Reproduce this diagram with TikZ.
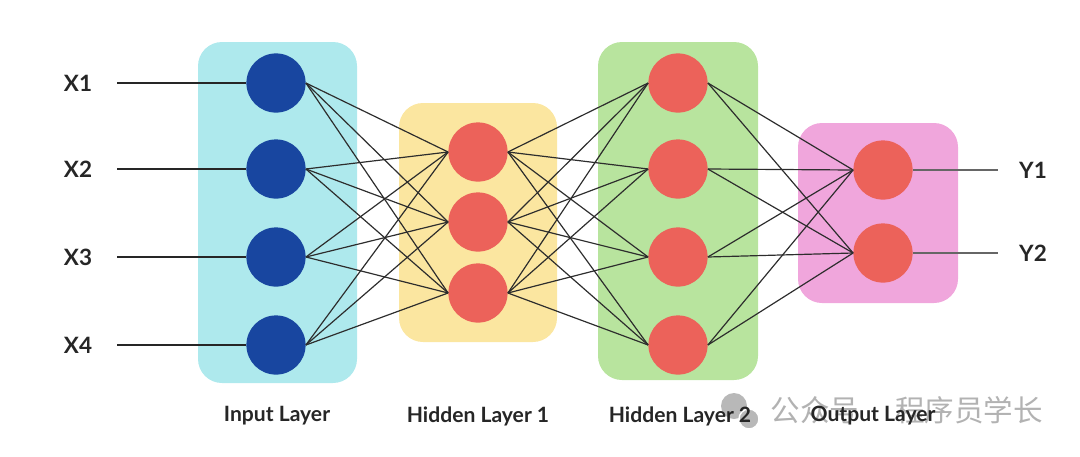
\documentclass[tikz,border=0pt]{standalone}
\usepackage{fontspec}
\setmainfont{Lato}
\newfontfamily\cjk{Noto Sans CJK SC}
\usetikzlibrary{positioning,calc}
\definecolor{deepblue}{RGB}{24,70,160}
\definecolor{coral}{RGB}{236,98,90}
\definecolor{aqua}{RGB}{174,233,237}
\definecolor{sand}{RGB}{251,230,160}
\definecolor{lime}{RGB}{184,228,158}
\definecolor{rose}{RGB}{240,166,220}
\definecolor{ink}{RGB}{45,45,45}
\tikzset{
  neuron/.style={circle,fill=#1,minimum size=1.48cm,inner sep=0pt},
  neuron/.default=coral,
  layerbox/.style={fill=#1,rounded corners=0.6cm},
  link/.style={draw=ink,line width=0.85pt},
  feed/.style={draw=#1,line width=1.3pt},
  feed/.default=ink,
  caption/.style={font=\bfseries\fontsize{15}{18}\selectfont,text=black!85},
  varname/.style={font=\bfseries\fontsize{16}{19}\selectfont,text=black!85},
  wmtext/.style={font=\cjk\fontsize{21}{24}\selectfont,text=black!30},
}
\begin{document}
\begin{tikzpicture}[x=0.025cm,y=-0.025cm]
  \useasboundingbox (0,0) rectangle (1080,456);
  % layer backgrounds
  \fill[layerbox=aqua] (198,42) rectangle (357,383);
  \fill[layerbox=sand] (399,103) rectangle (557,342);
  \fill[layerbox=lime] (598,42) rectangle (758,380);
  \fill[layerbox=rose] (798,123) rectangle (958,303);

  % neurons
  \foreach \i/\y in {1/83,2/169,3/257,4/345}
    \node[neuron=deepblue] (in\i) at (276,\y) {};
  \foreach \i/\y in {1/152,2/222,3/293}
    \node[neuron] (ha\i) at (478,\y) {};
  \foreach \i/\y in {1/83,2/169,3/257,4/345}
    \node[neuron] (hb\i) at (678,\y) {};
  \foreach \i/\y in {1/170,2/253}
    \node[neuron] (out\i) at (883,\y) {};

  % weights
  \foreach \i in {1,...,4}
    \foreach \j in {1,2,3}
      \draw[link] (in\i.east) -- (ha\j.west);
  \foreach \i in {1,2,3}
    \foreach \j in {1,...,4}
      \draw[link] (ha\i.east) -- (hb\j.west);
  \foreach \i in {1,...,4}
    \foreach \j in {1,2}
      \draw[link] (hb\i.east) -- (out\j.west);

  % inputs and outputs
  \foreach \i/\y in {1/83,2/169,3/257,4/345}{
    \node[varname] (x\i) at (78,\y) {X\i};
    \coordinate (xs\i) at (117,\y);
    \draw[feed=black!85] (xs\i) -- (in\i.west);
  }
  \foreach \i/\y in {1/170,2/253}{
    \node[varname] (y\i) at (1033,\y) {Y\i};
    \coordinate (ye\i) at (998,\y);
    \draw[feed=black!60,line width=1pt] (out\i.east) -- (ye\i);
  }

  % watermark
  \fill[black!28] (734,406) circle (13);
  \fill[black!28,draw=white,line width=1pt] (749,419) circle (10);
  \node[wmtext] (wma) at (815,410) {公众号};
  \node[wmtext] (wmb) at (969,410) {程序员学长};

  % captions
  \node[caption] (capin) at (277,416) {Input Layer};
  \node[caption] (capha) at (478,416) {Hidden Layer 1};
  \node[caption] (caphb) at (680,416) {Hidden Layer 2};
  \node[caption] (capout) at (873,416) {Output Layer};
\end{tikzpicture}
\end{document}
